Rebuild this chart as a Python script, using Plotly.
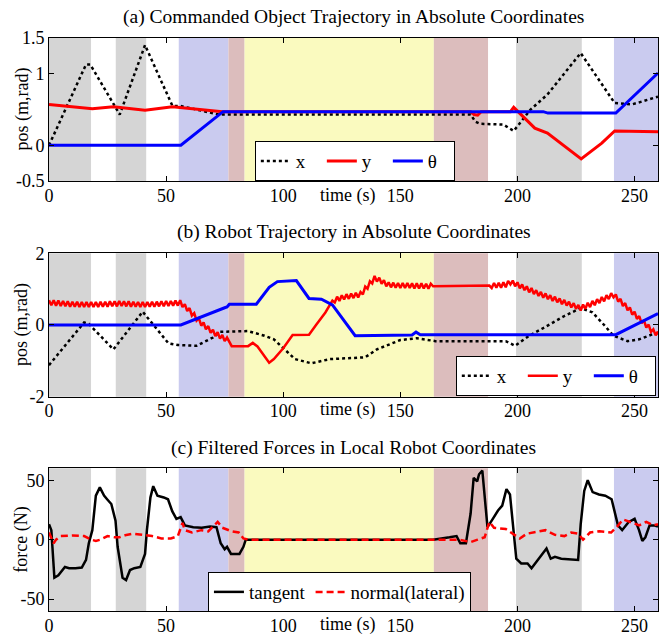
import plotly.graph_objects as go

# ---------------- data ----------------
region_start = [0, 18, 28.5, 41.6, 55.4, 76.6, 83.5, 164.3, 187.5, 199.4, 227.5, 241.2]
region_end = [18, 28.5, 41.6, 55.4, 76.6, 83.5, 164.3, 187.5, 199.4, 227.5, 241.2, 260]
region_color = ["#d5d5d5", "#ffffff", "#d5d5d5", "#ffffff", "#cacbef", "#dcbdbd",
                "#fafabf", "#dcbdbd", "#ffffff", "#d5d5d5", "#ffffff", "#cacbef"]

x_ticks = [0, 50, 100, 150, 200, 250]

# (a) commanded object trajectory
a_x_t = [0, 15.8, 17.6, 30.2, 41, 52.7, 56, 72.5, 180, 182, 184, 194, 198.4, 205.6, 212.8, 227, 241.5, 248.7, 252, 258.6, 260]
a_x_v = [0, 1.13, 1.13, 0.43, 1.40, 0.55, 0.55, 0.43, 0.43, 0.33, 0.30, 0.29, 0.20, 0.50, 0.71, 1.29, 0.59, 0.57, 0.60, 0.67, 0.68]
a_y_t = [0, 18.5, 27.5, 41, 52.7, 74, 180, 181.5, 183, 184.5, 197, 198.4, 207.4, 212.8, 227.2, 236, 241.5, 260]
a_y_v = [0.57, 0.51, 0.54, 0.49, 0.54, 0.47, 0.47, 0.43, 0.42, 0.47, 0.47, 0.53, 0.24, 0.17, -0.19, 0.03, 0.20, 0.19]
a_th_t = [0, 56.3, 74.3, 211, 213, 242, 260]
a_th_v = [0, 0, 0.47, 0.47, 0.45, 0.45, 1.01]

# (b) robot trajectory
b_x_t = [0, 15, 17, 27.5, 40, 51, 55, 63, 70, 73, 85, 92, 96, 100, 105, 112, 120, 130, 135, 140, 145, 150, 157, 165,
         188, 195, 199, 205, 212, 220, 227, 232, 237, 241, 247, 252, 258, 260]
b_x_v = [-1.12, 0.07, 0.03, -0.68, 0.37, -0.51, -0.56, -0.58, -0.35, -0.19, -0.17, -0.30, -0.40, -0.65, -0.95, -1.07,
         -0.95, -0.92, -0.90, -0.68, -0.55, -0.42, -0.37, -0.45, -0.45, -0.45, -0.58, -0.30, -0.05, 0.25, 0.47, 0.35,
         0.0, -0.30, -0.45, -0.40, -0.25, -0.22]
b_y_t = (list(range(0, 77)) + [78, 85, 87, 89, 94, 96, 100, 104, 111, 114, 118, 121]
         + list(range(122, 165)) + list(range(188, 261)))
b_y_v = [0.69, 0.55, 0.69, 0.54, 0.68, 0.53, 0.67, 0.52, 0.66, 0.51, 0.65, 0.51, 0.65, 0.50, 0.64, 0.50, 0.64, 0.50,
         0.64, 0.50, 0.64, 0.50, 0.65, 0.51, 0.65, 0.51, 0.66, 0.52, 0.66, 0.52, 0.67, 0.53, 0.66, 0.52, 0.66, 0.51,
         0.65, 0.51, 0.64, 0.50, 0.64, 0.50, 0.64, 0.51, 0.65, 0.51, 0.65, 0.52, 0.66, 0.52, 0.67, 0.53, 0.67, 0.54,
         0.68, 0.54, 0.69,
         0.50, 0.58, 0.39, 0.47, 0.26, 0.33, 0.12, 0.19, -0.02, 0.07, -0.12, -0.03, -0.22, -0.13, -0.31, -0.20,
         -0.38, -0.28, -0.45, -0.35,
         -0.59, -0.59, -0.50, -0.60, -1.05, -0.95, -0.65, -0.28, -0.27, 0.0, 0.35, 0.68,
         0.63, 0.79, 0.67, 0.83, 0.71, 0.86, 0.73, 0.88, 0.75, 0.90, 0.77, 0.92,
         0.85, 1.07, 1.01, 1.22, 1.16, 1.37, 1.21, 1.32, 1.15, 1.25, 1.08, 1.19,
         1.05, 1.18, 1.04, 1.17, 1.03, 1.17, 1.03, 1.17, 1.03, 1.16, 1.02, 1.16, 1.02, 1.16, 1.02, 1.15, 1.01, 1.15, 1.08,
         1.10, 1.03, 1.17, 1.04, 1.18, 1.04, 1.19, 1.05, 1.23, 1.13, 1.24, 1.08, 1.19, 1.02, 1.13, 0.97, 1.08, 0.91,
         1.03, 0.86, 0.97, 0.81, 0.92,
         0.76, 0.88, 0.72, 0.83, 0.67, 0.79, 0.63, 0.74, 0.58, 0.70, 0.54, 0.65, 0.49, 0.61, 0.45, 0.56, 0.40,
         0.57, 0.45, 0.62, 0.50, 0.67, 0.55, 0.72, 0.61, 0.78, 0.66, 0.83, 0.72, 0.89, 0.77,
         0.85, 0.65, 0.73, 0.53, 0.61, 0.41, 0.49, 0.29, 0.37, 0.17, 0.25, 0.05, 0.13, -0.07, 0.01, -0.19, -0.12,
         -0.29, -0.18]
b_th_t = [0, 56.3, 75, 76, 77, 88.5, 94, 97.5, 105.6, 111, 116.3, 121, 130.7, 155, 156.7, 158.5, 242, 258.2, 260]
b_th_v = [0, 0, 0.48, 0.50, 0.58, 0.58, 1.05, 1.21, 1.24, 0.74, 0.72, 0.56, -0.30, -0.28, -0.20, -0.27, -0.27, 0.28, 0.32]

# (c) filtered forces
c_tan_t = [0, 1, 2.3, 4, 6.8, 8.6, 11.3, 14, 15.8, 17, 18.5, 20, 21.7, 23.5, 24.8, 26.6, 28.4, 29.3, 31.4, 32.9, 34.6,
           36.4, 39, 41, 41.8, 43.3, 44.5, 46.3, 49, 50.8, 52.6, 54.4, 56.2, 58, 61.6, 65.2, 68.8, 71.5, 73.3, 75, 76,
           77.7, 81.3, 83, 84, 164, 171, 174, 175.6, 178, 180, 181.3, 182.8, 183.6, 185, 186.4, 187.2, 189, 191.7,
           193.5, 195.3, 196.8, 198, 199.5, 201.6, 204.3, 206, 208.8, 211.5, 212.4, 214.2, 216, 218.7, 223.2, 225.9,
           227, 228.5, 230, 232.1, 234.8, 237.5, 240.2, 242.9, 244.7, 247.4, 250, 251.9, 253.3, 254.6, 256.4, 258.2, 260]
c_tan_v = [13, 8, -32, -30, -23, -24, -24, -23.5, -17, -3, 8, 37, 44, 37, 34, 30, 16, -6, -32, -34, -25.5,
           -24, -23, -12, 8, 35.5, 45, 37, 35.5, 34, 24, 17.5, 19, 12, 10.5, 10, 11, 10.5, -3, -8, -6,
           -12, -12, -6, 0, 0, 2, 3, -3, -3, 22, 52, 49, 55, 58, 30, 10.5, 16, 24.5,
           28.6, 42.5, 38, 13, -16, -20, -20, -24, -17, -10, -7.5, -16, -14.5, -16, -16.7, -17,
           13, 41, 50, 40, 38, 37, 34, 12, 8, 14.7, 17.5, 8, -1, 2, 12, 12, 11]
c_nor_t = [0, 2, 3, 5, 10, 15, 18, 20, 22, 25, 28, 30, 33, 36, 40, 44, 48, 52, 55, 57, 58, 61, 65, 68, 72, 74, 78, 81,
           83, 85, 175, 180, 183, 186, 188, 190, 195, 198, 201, 204, 207, 212, 216, 220, 223, 226, 228, 231, 235,
           240, 243, 245, 248, 252, 255, 258, 260]
c_nor_v = [6, -3, 0, 3, 3.5, 3, 0, -1, 0, 3, 2, 2, 4, 5, 4, 3, 1, 1, 3, 14, 8, 6, 8, 7, 15, 10, 7, 6,
           1, 0, 0, -2, 0, 2, 15, 10, 9, 5, 1, 5, 6, 8, 4, 3, 6, 5, 0, 6, 7,
           6, 12, 17, 15, 12, 15, 12, 13]

# ---------------- figure ----------------
FONT = "Liberation Serif"
fig = go.Figure()

def add(t, v, name, color, dash, width, n, legend):
    fig.add_trace(go.Scatter(x=t, y=v, mode="lines", name=name,
                             line=dict(color=color, dash=dash, width=width),
                             xaxis="x" if n == 1 else f"x{n}",
                             yaxis="y" if n == 1 else f"y{n}",
                             legend=legend))

add(a_x_t, a_x_v, "x", "black", "dot", 2.5, 1, "legend")
add(a_y_t, a_y_v, "y", "#ff0000", "solid", 3, 1, "legend")
add(a_th_t, a_th_v, "θ", "#0000ff", "solid", 3, 1, "legend")
add(b_x_t, b_x_v, "x", "black", "dot", 2.5, 2, "legend2")
add(b_y_t, b_y_v, "y", "#ff0000", "solid", 2.5, 2, "legend2")
add(b_th_t, b_th_v, "θ", "#0000ff", "solid", 3, 2, "legend2")
add(c_tan_t, c_tan_v, "tangent", "black", "solid", 2.5, 3, "legend3")
add(c_nor_t, c_nor_v, "normal(lateral)", "#ff0000", "7px,4px", 2.5, 3, "legend3")

shapes = []
for n in (1, 2, 3):
    xr = "x" if n == 1 else f"x{n}"
    yr = ("y" if n == 1 else f"y{n}") + " domain"
    for s, e, c in zip(region_start, region_end, region_color):
        shapes.append(dict(type="rect", xref=xr, yref=yr, x0=s, x1=e, y0=0, y1=1,
                           fillcolor=c, line=dict(width=0), layer="below"))

axis_common = dict(showgrid=False, zeroline=False, showline=True, linecolor="black", linewidth=1,
                   mirror="ticks", ticks="inside", ticklen=5, tickcolor="black", automargin=False,
                   tickfont=dict(family=FONT, size=18, color="black"))

domains = [[0.7504, 1.0], [0.374, 0.6243], [0.0, 0.249]]
yranges = [[-0.5, 1.5], [-2, 2], [-60, 60]]
yticks = [[-0.5, 0, 1, 1.5], [-2, 0, 2], [-50, 0, 50]]
yticktext = [["-0.5", "0", "1", "1.5"], ["-2", "0", "2"], ["-50", "0", "50"]]

layout = dict(width=662, height=635, margin=dict(l=49, r=4, t=38, b=24, autoexpand=False),
              paper_bgcolor="white", plot_bgcolor="white",
              font=dict(family=FONT, size=18, color="black"), shapes=shapes)
for i in range(3):
    n = i + 1
    xk = "xaxis" if n == 1 else f"xaxis{n}"
    yk = "yaxis" if n == 1 else f"yaxis{n}"
    ya = "y" if n == 1 else f"y{n}"
    xa = "x" if n == 1 else f"x{n}"
    layout[xk] = dict(axis_common, domain=[0, 1], anchor=ya, range=[0, 260],
                      tickvals=x_ticks, ticktext=[str(v) for v in x_ticks], ticklabelstandoff=-2)
    layout[yk] = dict(axis_common, domain=domains[i], anchor=xa, range=yranges[i],
                      tickvals=yticks[i], ticktext=yticktext[i])

leg_common = dict(orientation="h", bgcolor="white", bordercolor="black", borderwidth=1,
                  font=dict(family=FONT, size=19, color="black"), xanchor="left", yanchor="top",
                  tracegroupgap=0, itemwidth=30)
layout["legend"] = dict(leg_common, x=0.338, y=0.820, entrywidth=21)
layout["legend2"] = dict(leg_common, x=0.668, y=0.445, entrywidth=21)
layout["legend3"] = dict(leg_common, x=0.261, y=0.068)

titles = ["(a) Commanded Object Trajectory in Absolute Coordinates",
          "(b) Robot Trajectory in Absolute Coordinates",
          "(c) Filtered Forces in Local Robot Coordinates"]
title_y = [1.037, 0.662, 0.285]
ylabels = ["pos (m,rad)", "pos (m,rad)", "force (N)"]
time_y = [0.7243, 0.3508, -0.0244]
ann = []
for i in range(3):
    n = i + 1
    ann.append(dict(text=titles[i], xref="paper", yref="paper", x=0.5, y=title_y[i],
                    showarrow=False, font=dict(family=FONT, size=19.5), yanchor="middle"))
    ann.append(dict(text=ylabels[i], xref="paper", yref="paper", x=-0.0443,
                    y=sum(domains[i]) / 2, textangle=-90, showarrow=False,
                    font=dict(family=FONT, size=18), xanchor="center", yanchor="middle"))
    ann.append(dict(text="time (s)", xref="x" if n == 1 else f"x{n}", yref="paper", x=127.5,
                    y=time_y[i], showarrow=False, font=dict(family=FONT, size=18), yanchor="middle"))
layout["annotations"] = ann

fig.update_layout(**layout)
fig.write_html("out.html", config={"displayModeBar": False},
               post_script="document.body.style.margin='0';document.body.style.overflow='hidden';")
